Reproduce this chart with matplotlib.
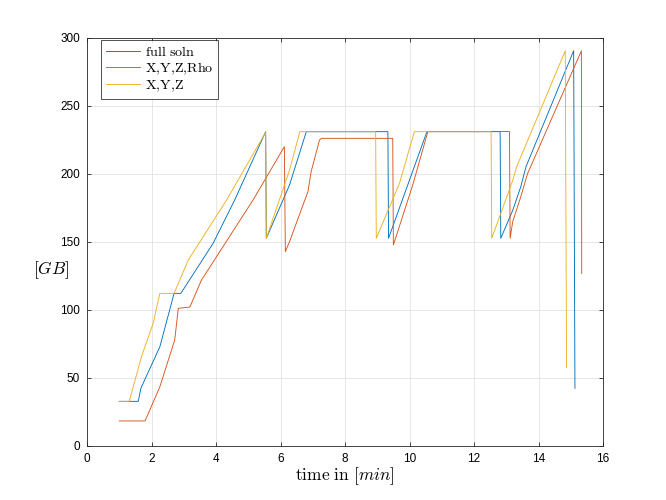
import matplotlib
matplotlib.use("Agg")
import matplotlib.pyplot as plt

plt.rcParams['mathtext.fontset'] = 'cm'
plt.rcParams['font.family'] = ['Liberation Sans', 'DejaVu Sans']

# full soln (blue)
t_full = [1.0, 1.59, 1.67, 2.26, 2.70, 2.91, 3.91, 4.58, 5.54, 5.56, 6.28, 6.80,
          9.33, 9.35, 10.54, 12.81, 12.83, 13.2, 13.45, 13.61, 15.09, 15.13]
v_full = [32.6, 32.6, 42.2, 72.8, 112, 112, 148.8, 180.7, 230.9, 152.5, 191.7, 230.9,
          230.9, 152.5, 230.9, 230.9, 152.5, 173, 190.4, 205, 290.4, 42.2]

# X,Y,Z,Rho (orange)
t_rho = [1.0, 1.80, 2.26, 2.72, 2.83, 3.19, 3.55, 5.15, 6.12, 6.15, 6.28, 6.85, 6.95,
         7.21, 7.27, 9.48, 9.50, 10.1, 10.57, 13.10, 13.12, 13.2, 13.45, 13.66, 15.33, 15.34]
v_rho = [18.2, 18.2, 43.4, 77.7, 101, 102, 121.8, 180.7, 219.9, 142.7, 150, 186.8, 201.5,
         224.8, 226, 226, 147.6, 191.7, 231, 231, 152.5, 164.7, 183, 200, 290.4, 126.7]

# X,Y,Z (yellow)
t_xyz = [1.0, 1.31, 1.69, 2.05, 2.26, 2.70, 3.14, 4.33, 5.54, 5.56, 6.28, 6.60,
         8.95, 8.97, 9.69, 10.15, 12.53, 12.55, 13.2, 13.32, 14.83, 14.87]
v_xyz = [32.6, 32.6, 65.5, 90, 112, 112, 136.5, 180.7, 230.4, 152.5, 202.7, 230.9,
         230.9, 152.5, 193, 230.9, 230.9, 152.5, 195, 205, 290.4, 57.4]

labels = [r'$\mathrm{full\ soln}$', r'$\mathrm{X{,}Y{,}Z{,}Rho}$', r'$\mathrm{X{,}Y{,}Z}$']
colors = ['#0072BD', '#D95319', '#EDB120']

fig = plt.figure(figsize=(6.66, 5.0), dpi=100)
ax = fig.add_axes([87/666, 1-445.7/500, (603-87)/666, (445.7-37.7)/500])

ax.plot(t_full, v_full, color=colors[0], lw=0.65, label=labels[0])
ax.plot(t_rho, v_rho, color=colors[1], lw=0.65, label=labels[1])
ax.plot(t_xyz, v_xyz, color=colors[2], lw=0.65, label=labels[2])

ax.set_xlim(0, 16)
ax.set_ylim(0, 300)
ax.set_xticks(range(0, 17, 2))
ax.set_yticks(range(0, 301, 50))
ax.grid(True, color='#e3e3e3', lw=0.6)
ax.tick_params(direction='in', top=True, right=True, labelsize=8.5, length=3,
               color='#262626', width=0.6)
ax.tick_params(axis='x', pad=5)
ax.tick_params(axis='y', pad=5)
for s in ax.spines.values():
    s.set_color('#262626')
    s.set_linewidth(0.6)

leg = ax.legend(loc='upper left', bbox_to_anchor=(0.027, 0.994), borderaxespad=0,
                fontsize=10.2, frameon=True, fancybox=False, edgecolor='black',
                handlelength=2.4, handletextpad=0.35, labelspacing=0.1, borderpad=0.35)
leg.get_frame().set_linewidth(0.6)

fig.text(345/666, 1-476/500, r'$\mathrm{time\ in\ }[min]$', ha='center', va='center', fontsize=12.5)
fig.text(51/666, 1-270/500, r'$[GB]$', ha='center', va='center', fontsize=12.5)

fig.savefig('out.png', dpi=100)
